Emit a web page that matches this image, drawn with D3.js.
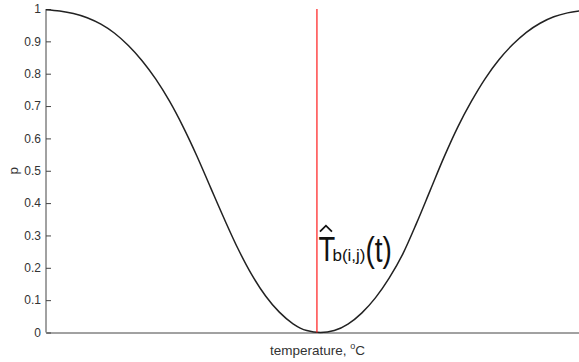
<!DOCTYPE html>
<html>
<head>
<meta charset="utf-8">
<script src="https://cdn.jsdelivr.net/npm/d3@7"></script>
<style>
  body { margin: 0; background: #fff; }
  svg { display: block; font-family: "Liberation Sans", Arial, Helvetica, sans-serif; }
</style>
</head>
<body>
<script>
// temperature samples (arbitrary units, axis is unlabelled) and p
const temps = [0, 0.5, 1, 1.5, 2, 2.5, 3, 3.5, 4, 4.5, 5, 5.5, 6, 6.5, 7, 7.5, 8, 8.5, 9, 9.5,
               10, 10.5, 11, 11.5, 12, 12.5, 13, 13.5, 14, 14.5, 15, 15.5, 16, 16.5, 17, 17.5,
               18, 18.5, 19, 19.5];
const pValues = [0.998, 0.994, 0.986, 0.973, 0.953, 0.925, 0.887, 0.840, 0.783, 0.715,
                 0.635, 0.545, 0.447, 0.350, 0.258, 0.178, 0.113, 0.063, 0.027, 0.006,
                 0, 0.006, 0.026, 0.060, 0.107, 0.168, 0.243, 0.338, 0.440, 0.542,
                 0.635, 0.715, 0.785, 0.843, 0.890, 0.928, 0.956, 0.976, 0.988, 0.995];
const yTicks = [0, 0.1, 0.2, 0.3, 0.4, 0.5, 0.6, 0.7, 0.8, 0.9, 1];
const estTemp = 9.87;   // position of the estimate T^_b(i,j)(t)

const width = 579, height = 362;
const margin = {top: 9, right: 0, bottom: 29.5, left: 46};

const svg = d3.select("body").append("svg")
  .attr("width", width)
  .attr("height", height);

const x = d3.scaleLinear().domain([0, 20]).range([margin.left, margin.left + 549]);
const y = d3.scaleLinear().domain([0, 1]).range([height - margin.bottom, margin.top]);

const axisColor = "#444";

// y axis, matlab style: ticks point inwards
const yAxis = svg.append("g")
  .attr("transform", `translate(${margin.left},0)`)
  .call(d3.axisLeft(y).tickValues(yTicks).tickSize(-5).tickPadding(5)
        .tickFormat(d3.format("~g")));
yAxis.selectAll("path, line").attr("stroke", axisColor);
yAxis.select(".domain").attr("d", `M0,${y(0)}V${y(1)}`);
yAxis.selectAll("text").attr("fill", "#333").attr("font-size", 12)
  .attr("font-family", "Liberation Sans, Arial, sans-serif");

// x axis: just the baseline, no ticks
const xAxis = svg.append("g")
  .attr("transform", `translate(0,${y(0)})`)
  .call(d3.axisBottom(x).tickValues([]).tickSizeOuter(0));
xAxis.select(".domain").attr("stroke", axisColor);

// curve
const line = d3.line()
  .x((d, i) => x(temps[i]))
  .y(d => y(d))
  .curve(d3.curveMonotoneX);

svg.append("path")
  .datum(pValues)
  .attr("d", line)
  .attr("fill", "none")
  .attr("stroke", "#222")
  .attr("stroke-width", 1.5);

// estimate marker
svg.append("line")
  .attr("x1", x(estTemp)).attr("x2", x(estTemp))
  .attr("y1", y(0)).attr("y2", y(1))
  .attr("stroke", "#ff1a1a")
  .attr("stroke-width", 1.2);

// label  T^_b(i,j)(t)
const lx = x(estTemp) + 1.5, ly = y(0.222);
const lab = svg.append("g").attr("fill", "#111");
lab.append("text")
  .attr("transform", `translate(${lx},${ly}) scale(0.76,1)`)
  .attr("font-size", 36)
  .text("T");
lab.append("path")
  .attr("d", `M${lx + 1.5},${ly - 29} L${lx + 7.5},${ly - 35} L${lx + 13.5},${ly - 29}`)
  .attr("fill", "none")
  .attr("stroke", "#111")
  .attr("stroke-width", 1.8);
lab.append("text")
  .attr("transform", `translate(${lx + 14},${ly})`)
  .attr("font-size", 17)
  .text("b(i,j)");
lab.append("text")
  .attr("transform", `translate(${lx + 47},${ly + 1}) scale(0.78,1)`)
  .attr("font-size", 36)
  .text("(t)");

// axis titles
const xt = svg.append("text")
  .attr("x", (x(0) + width) / 2 + 5)
  .attr("y", height - 7)
  .attr("text-anchor", "middle")
  .attr("font-size", 13.5)
  .attr("fill", "#333");
xt.append("tspan").text("temperature, ");
xt.append("tspan").attr("font-size", 9).attr("dy", -6).text("o");
xt.append("tspan").attr("dy", 6).text("C");

svg.append("text")
  .attr("transform", `translate(18,${(y(0) + y(1)) / 2}) rotate(-90)`)
  .attr("text-anchor", "middle")
  .attr("font-size", 13.5)
  .attr("fill", "#333")
  .text("p");
</script>
</body>
</html>
